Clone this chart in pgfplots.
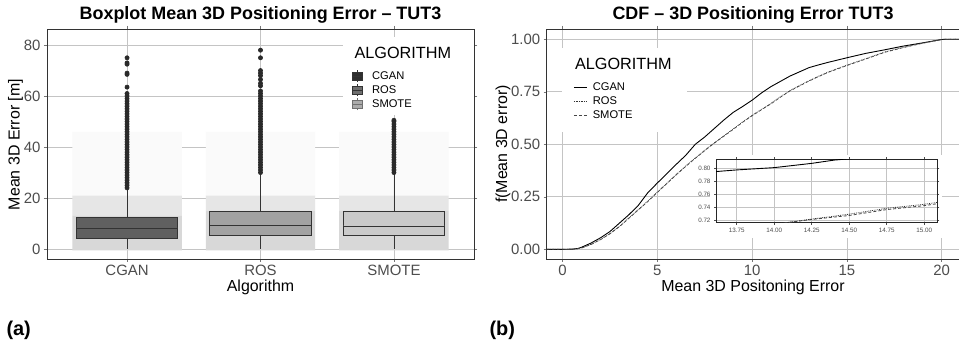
\documentclass[border=0pt]{standalone}
\usepackage{pgfplots}
\pgfplotsset{compat=1.18}
\usepgfplotslibrary{statistics}
\usepackage{fontspec}
\setmainfont{Liberation Sans}
\definecolor{gridc}{HTML}{C4C4C4}
\definecolor{tickc}{HTML}{4D4D4D}
\definecolor{framec}{HTML}{333333}
\definecolor{cganbox}{HTML}{606060}
\definecolor{rosbox}{HTML}{A2A2A2}
\definecolor{smotebox}{HTML}{CACACA}
\definecolor{cgankey}{HTML}{2E2E2E}
\definecolor{roskey}{HTML}{6E6E6E}
\definecolor{smotekey}{HTML}{ABABAB}
\definecolor{jit1}{HTML}{D8D8D8}
\definecolor{jit2}{HTML}{E6E6E6}
\definecolor{jit3}{HTML}{FAFAFA}
\definecolor{outc}{HTML}{2A2A2A}
\pgfplotsset{
  common/.style={
    scale only axis, anchor=south west,
    grid=major, major grid style={gridc, line width=0.7bp},
    axis line style={framec, line width=0.8bp},
    tick style={gridc!60!black, line width=0.6bp}, tick align=outside, major tick length=3bp,
    ticklabel style={font=\fontsize{15}{15}\selectfont, text=tickc},
    /pgf/number format/assume math mode=true,
  },
  mybox/.style={boxplot/draw direction=y, line width=0.6bp, draw=framec,
    mark=*, mark size=2.1bp, mark options={fill=outc, draw=outc, solid}, forget plot},
}
\begin{document}
\begin{tikzpicture}
\useasboundingbox (0,0) rectangle (959bp,349bp);
\fill[white] (0,0) rectangle (959bp,349bp);
% ---------------- left panel ----------------
\begin{axis}[common, at={(47bp,90bp)}, width=427bp, height=230bp,
  xmin=0.4, xmax=3.6, ymin=-3.9, ymax=86.3,
  xtick={1,2,3}, xticklabels={CGAN,ROS,SMOTE}, ytick={0,20,40,60,80},
  legend cell align=left,
  legend style={at={(rel axis cs:0.714,0.822)}, anchor=north west, draw=none, fill=none,
    font=\fontsize{11.2}{12}\selectfont, row sep=1.5bp, inner sep=0pt,
    nodes={inner sep=1.5bp}, /tikz/every odd column/.append style={column sep=8bp}},
  legend image code/.code={
    \draw[#1, line width=0.5bp] (0bp,-4.3bp) rectangle (10bp,4.3bp);
    \draw[#1, line width=0.5bp] (0bp,0bp) -- (10bp,0bp);
    \draw[#1, line width=0.5bp] (5bp,4.3bp) -- (5bp,6bp);
    \draw[#1, line width=0.5bp] (5bp,-4.3bp) -- (5bp,-6bp);
  },
]
% jitter clouds (shaded bands)
\addplot[draw=none, fill=jit3, forget plot] coordinates {(0.59,21) (1.41,21) (1.41,46) (0.59,46) (0.59,21)};
\addplot[draw=none, fill=jit2, forget plot] coordinates {(0.59,13) (1.41,13) (1.41,21) (0.59,21) (0.59,13)};
\addplot[draw=none, fill=jit1, forget plot] coordinates {(0.59,-0.5) (1.41,-0.5) (1.41,13) (0.59,13) (0.59,-0.5)};
\addplot[draw=none, fill=jit3, forget plot] coordinates {(1.59,21) (2.41,21) (2.41,46) (1.59,46) (1.59,21)};
\addplot[draw=none, fill=jit2, forget plot] coordinates {(1.59,15) (2.41,15) (2.41,21) (1.59,21) (1.59,15)};
\addplot[draw=none, fill=jit1, forget plot] coordinates {(1.59,-0.5) (2.41,-0.5) (2.41,15) (1.59,15) (1.59,-0.5)};
\addplot[draw=none, fill=jit3, forget plot] coordinates {(2.59,21) (3.41,21) (3.41,46) (2.59,46) (2.59,21)};
\addplot[draw=none, fill=jit2, forget plot] coordinates {(2.59,15) (3.41,15) (3.41,21) (2.59,21) (2.59,15)};
\addplot[draw=none, fill=jit1, forget plot] coordinates {(2.59,-0.5) (3.41,-0.5) (3.41,15) (2.59,15) (2.59,-0.5)};
% boxplots
\addplot[mybox, fill=cganbox, boxplot prepared={draw position=1, lower whisker=0, lower quartile=4.4, median=8.3,
    upper quartile=12.3, upper whisker=23.9, box extend=0.76, whisker extend=0}]
  table[row sep=\\, y index=0] {data\\ 24\\ 25\\ 26\\ 27\\ 28\\ 29\\ 30\\ 31\\ 32\\ 33\\ 34\\ 35\\ 36\\ 37\\ 38\\ 39\\ 40\\ 41\\ 42\\ 43\\ 44\\ 45\\ 46\\ 47\\ 48\\ 49\\ 50\\ 51\\ 52\\ 53\\ 54\\ 55\\ 56\\ 57\\ 58\\ 59\\ 60\\ 61\\ 63.5\\ 68.5\\ 69\\ 72.5\\ 73\\ 75\\ };
\addplot[mybox, fill=rosbox, boxplot prepared={draw position=2, lower whisker=0, lower quartile=5.2, median=9.3,
    upper quartile=15.0, upper whisker=29.7, box extend=0.76, whisker extend=0}]
  table[row sep=\\, y index=0] {data\\ 30\\ 31\\ 32\\ 33\\ 34\\ 35\\ 36\\ 37\\ 38\\ 39\\ 40\\ 41\\ 42\\ 43\\ 44\\ 45\\ 46\\ 47\\ 48\\ 49\\ 50\\ 51\\ 52\\ 53\\ 54\\ 55\\ 56\\ 57\\ 58\\ 59\\ 60\\ 61\\ 62\\ 64\\ 65\\ 66.5\\ 68\\ 69\\ 70\\ 75\\ 78\\ };
\addplot[mybox, fill=smotebox, boxplot prepared={draw position=3, lower whisker=0, lower quartile=5.2, median=9.1,
    upper quartile=15.0, upper whisker=29.7, box extend=0.76, whisker extend=0}]
  table[row sep=\\, y index=0] {data\\ 30\\ 31\\ 32\\ 33\\ 34\\ 35\\ 36\\ 37\\ 38\\ 39\\ 40\\ 41\\ 42\\ 43\\ 44\\ 45\\ 46\\ 47\\ 48\\ 49\\ 50\\ 50.5\\ };
% legend background
\fill[white] (rel axis cs:0.693,0.626) rectangle (rel axis cs:1,0.965);
\addlegendimage{fill=cgankey, draw=framec}
\addlegendentry{CGAN}
\addlegendimage{fill=roskey, draw=framec}
\addlegendentry{ROS}
\addlegendimage{fill=smotekey, draw=framec!70}
\addlegendentry{SMOTE}
\end{axis}
\node[anchor=west, font=\fontsize{16.3}{17}\selectfont] at (351bp,296bp) {ALGORITHM};
\node[font=\bfseries\fontsize{18}{20}\selectfont] at (260.5bp,334bp) {Boxplot Mean 3D Positioning Error – TUT3};
\node[rotate=90, font=\fontsize{16}{17}\selectfont] at (15.5bp,204.5bp) {Mean 3D Error [m]};
\node[font=\fontsize{16}{17}\selectfont] at (260.5bp,62bp) {Algorithm};
\node[anchor=west, font=\bfseries\fontsize{20}{22}\selectfont] at (3bp,19bp) {(a)};
% ---------------- right panel ----------------
\begin{axis}[common, at={(546.7bp,90bp)}, width=413.5bp, height=230bp,
  xmin=-0.84, xmax=20.98, ymin=-0.046, ymax=1.049,
  xtick={0,5,10,15,20}, ytick={0,0.25,0.5,0.75,1},
  yticklabel style={/pgf/number format/.cd, fixed, fixed zerofill, precision=2},
  legend cell align=left,
  legend style={at={(rel axis cs:0.064,0.774)}, anchor=north west, draw=none, fill=none,
    font=\fontsize{11.2}{12}\selectfont, row sep=1.5bp, inner sep=0pt,
    nodes={inner sep=1.5bp}, /tikz/every odd column/.append style={column sep=4bp}},
  legend image code/.code={\draw[#1] (0bp,0bp) -- (13bp,0bp);},
]
\fill[white] (rel axis cs:0.037,0.552) rectangle (rel axis cs:0.340,0.917);
\addplot[black, line width=0.9bp] coordinates {
(-0.84,0) (0,0) (0.5,0.001) (0.8,0.004) (1.0,0.01) (1.5,0.03) (2.0,0.055) (2.5,0.085) (3.0,0.125)
(3.5,0.165) (4.0,0.21) (4.5,0.27) (5.0,0.316) (5.5,0.36) (6.0,0.405) (6.5,0.448) (7.0,0.50)
(7.5,0.535) (8.0,0.575) (8.5,0.615) (9.0,0.652) (9.5,0.68) (10.0,0.71) (10.5,0.745) (11.0,0.775)
(11.5,0.80) (12.0,0.825) (12.5,0.845) (13.0,0.865) (13.5,0.878) (14.0,0.89) (15.0,0.912)
(16.0,0.933) (17.0,0.95) (18.0,0.968) (19.0,0.983) (20.0,0.999) (20.2,1.0) (20.98,1.0)};
\addlegendentry{CGAN}
\addplot[gray!40!black, densely dotted, line width=0.7bp] coordinates {
(-0.84,0) (0,0) (0.5,0.0) (0.8,0.003) (1.0,0.007) (1.5,0.024) (2.0,0.047) (2.5,0.075) (3.0,0.11)
(3.5,0.15) (4.0,0.19) (4.5,0.23) (5.0,0.273) (5.5,0.315) (6.0,0.357) (6.5,0.397) (7.0,0.435)
(7.5,0.472) (8.0,0.507) (8.5,0.54) (9.0,0.573) (9.5,0.607) (10.0,0.638) (10.5,0.667) (11.0,0.695)
(11.5,0.727) (12.0,0.756) (12.5,0.78) (13.0,0.803) (13.5,0.824) (14.0,0.844) (15.0,0.877)
(16.0,0.908) (17.0,0.94) (18.0,0.962) (19.0,0.982) (20.0,0.999) (20.2,1.0) (20.98,1.0)};
\addlegendentry{ROS}
\addplot[gray!55!black, dash pattern=on 3bp off 2bp, line width=0.7bp] coordinates {
(-0.84,0) (0,0) (0.5,0.0) (0.8,0.003) (1.0,0.006) (1.5,0.023) (2.0,0.046) (2.5,0.074) (3.0,0.108)
(3.5,0.148) (4.0,0.188) (4.5,0.228) (5.0,0.271) (5.5,0.313) (6.0,0.355) (6.5,0.395) (7.0,0.433)
(7.5,0.470) (8.0,0.505) (8.5,0.538) (9.0,0.571) (9.5,0.605) (10.0,0.636) (10.5,0.665) (11.0,0.693)
(11.5,0.725) (12.0,0.754) (12.5,0.778) (13.0,0.801) (13.5,0.822) (14.0,0.842) (15.0,0.875)
(16.0,0.906) (17.0,0.938) (18.0,0.961) (19.0,0.981) (20.0,0.999) (20.2,1.0) (20.98,1.0)};
\addlegendentry{SMOTE}
\end{axis}
\node[anchor=west, font=\fontsize{16.3}{17}\selectfont] at (571.5bp,285bp) {ALGORITHM};
\node[font=\bfseries\fontsize{18}{20}\selectfont] at (753bp,334bp) {CDF – 3D Positioning Error TUT3};
\node[rotate=90, font=\fontsize{16}{17}\selectfont] at (503bp,205bp) {f(Mean 3D error)};
\node[font=\fontsize{16}{17}\selectfont] at (753bp,62bp) {Mean 3D Positoning Error};
\node[anchor=west, font=\bfseries\fontsize{20}{22}\selectfont] at (486bp,19bp) {(b)};
% ---------------- inset ----------------
\fill[white] (710bp,111bp) rectangle (942bp,194bp);
\begin{axis}[at={(716bp,126.3bp)}, anchor=south west, scale only axis, width=221.3bp, height=63.4bp,
  xmin=13.612, xmax=15.087, ymin=0.717, ymax=0.8137,
  xtick={13.75,14,14.25,14.5,14.75,15}, ytick={0.72,0.74,0.76,0.78,0.8},
  grid=major, major grid style={gridc, line width=0.6bp},
  axis line style={black!85, line width=0.8bp},
  tick align=outside, major tick length=2bp, tick style={black!70, line width=0.5bp},
  ticklabel style={font=\fontsize{6.3}{7}\selectfont, text=tickc},
  /pgf/number format/assume math mode=true,
  xticklabel style={/pgf/number format/.cd, fixed, fixed zerofill, precision=2},
  yticklabel style={/pgf/number format/.cd, fixed, fixed zerofill, precision=2},
]
\addplot[black, line width=0.9bp] coordinates {(13.612,0.795) (13.75,0.7975) (14.0,0.801) (14.25,0.8075) (14.4,0.8125) (14.5,0.8145) (14.6,0.8165)};
\addplot[gray!40!black, densely dotted, line width=0.8bp] coordinates {(14.0,0.7145) (14.25,0.7225) (14.5,0.730) (14.75,0.739) (15.0,0.745) (15.087,0.748)};
\addplot[gray!55!black, dash pattern=on 3bp off 2bp, line width=0.8bp] coordinates {(14.0,0.7145) (14.25,0.722) (14.5,0.728) (14.75,0.737) (15.0,0.743) (15.087,0.746)};
\end{axis}
\end{tikzpicture}
\end{document}
